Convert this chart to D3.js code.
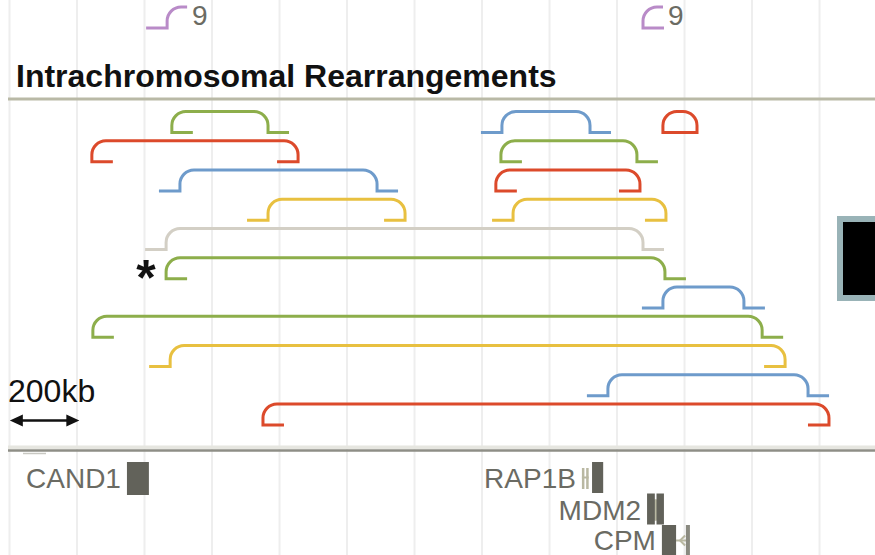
<!DOCTYPE html>
<html><head><meta charset="utf-8">
<script src="https://cdn.jsdelivr.net/npm/d3@7"></script>
<style>html,body{margin:0;padding:0;background:#fff;} svg{display:block;}</style>
</head><body><svg id="chart" width="875" height="555"></svg>
<script>
// Breakpoint positions are in kb from the left edge of the window.
const linkStart     = [481, 1459, 1936, 244, 1456, 505, 1441, 766, 1492, 464, 464, 1936, 247, 476, 1773, 751];
const linkEnd       = [766, 1720, 2037, 855, 1859, 1089, 1868, 1172, 1945, 1877, 1942, 2176, 2230, 2298, 2366, 2428];
const linkStartSide = ["in","out","in","in","in","out","in","out","out","out","in","out","in","out","out","in"];
const linkEndSide   = ["out","out","in","in","out","out","in","in","in","out","out","out","out","in","out","in"];
const linkRow       = [0, 0, 0, 1, 1, 2, 2, 3, 3, 4, 5, 6, 7, 8, 9, 10];
const linkColor     = ["green","blue","red","red","green","blue","red","yellow","yellow","gray","green","blue","green","yellow","blue","red"];
const linkMark      = ["","","","","","","","","","","*","","","","",""];

// Translocation ends to another chromosome
const transPos   = [467, 1877];
const transSide  = ["out", "in"];
const transLabel = ["9", "9"];

// Genes: label, track row, coding blocks and thin (UTR) spans in kb
const geneName   = ["CAND1", "RAP1B", "MDM2", "CPM"];
const geneRow    = [0, 0, 1, 2];
const geneBlocks = [[[348, 413]], [[1726, 1759]], [[1889, 1912], [1917, 1939]], [[1933, 1975]]];
const geneThin   = [[], [[1696, 1716]], [[1912, 1917]], [[1975, 2016]]];
const geneStrand = ["+", "+", "+", "-"];

const gridKb = d3.range(0, 2600, 200);
const scaleBarKb = 200;
const title = "Intrachromosomal Rearrangements";

const palette = {green: "#8dae4b", blue: "#6e9bcb", red: "#dc4a2b", yellow: "#e8c040", gray: "#d3cfc5", purple: "#b98bc8"};

const W = 875, H = 555;
const svg = d3.select("#chart");
const x = d3.scaleLinear().domain([0, 2570]).range([9.5, 876.9]);
const rowY = d3.scaleLinear().domain([0, 10]).range([111.5, 404]);
const geneY = d3.scaleLinear().domain([0, 2]).range([462, 525]);
const ARC_H = 21, R = 14, STUB = 21;
const FONT = "'Liberation Sans', Arial, Helvetica, sans-serif";

// grid
svg.append("g").selectAll("line").data(gridKb).join("line")
  .attr("x1", d => x(d)).attr("x2", d => x(d))
  .attr("y1", 0).attr("y2", H)
  .attr("stroke", "#eeeeee").attr("stroke-width", 2);

// track separators
svg.append("line").attr("x1", 8).attr("x2", W).attr("y1", 99).attr("y2", 99)
  .attr("stroke", "#b9b9a6").attr("stroke-width", 3);
svg.append("rect").attr("x", 8).attr("y", 445.5).attr("width", W - 8).attr("height", 3.5).attr("fill", "#e6e6e0");
svg.append("line").attr("x1", 8).attr("x2", W).attr("y1", 450.5).attr("y2", 450.5)
  .attr("stroke", "#8e8e86").attr("stroke-width", 2.5);
svg.append("line").attr("x1", 23).attr("x2", 46).attr("y1", 453.5).attr("y2", 453.5)
  .attr("stroke", "#c8c8c2").attr("stroke-width", 1.5);

// title
svg.append("text").attr("x", 16).attr("y", 87).text(title)
  .attr("font-family", FONT).attr("font-weight", "bold").attr("font-size", 32).attr("fill", "#111");

// bracket path for one rearrangement
function bracket(a, b, sa, sb, yt) {
  const xa = x(a), xb = x(b), yb = yt + ARC_H;
  const r = Math.min(R, (xb - xa) / 2);
  const stub = Math.min(STUB, (xb - xa) / 2);
  const ea = sa === "out" ? xa - STUB : xa + stub;
  const eb = sb === "out" ? xb + STUB : xb - stub;
  return `M${ea},${yb}H${xa}V${yt + r}A${r},${r} 0 0 1 ${xa + r},${yt}` +
         `H${xb - r}A${r},${r} 0 0 1 ${xb},${yt + r}V${yb}H${eb}`;
}

const links = linkStart.map((s, i) => ({s, e: linkEnd[i], ss: linkStartSide[i], es: linkEndSide[i],
  row: linkRow[i], color: linkColor[i], mark: linkMark[i]}));

svg.append("g").selectAll("path").data(links).join("path")
  .attr("d", d => bracket(d.s, d.e, d.ss, d.es, rowY(d.row)))
  .attr("fill", "none").attr("stroke", d => palette[d.color]).attr("stroke-width", 3);

svg.append("g").selectAll("text").data(links.filter(d => d.mark)).join("text")
  .attr("x", d => x(d.s) - 20).attr("y", d => rowY(d.row) + 37)
  .attr("text-anchor", "middle").text(d => d.mark)
  .attr("font-family", FONT).attr("font-weight", "bold").attr("font-size", 50).attr("fill", "#111");

// translocation half-brackets
const trans = transPos.map((p, i) => ({p, side: transSide[i], label: transLabel[i]}));
const tTop = 7;
svg.append("g").selectAll("path").data(trans).join("path")
  .attr("d", d => {
    const xp = x(d.p), yb = tTop + ARC_H;
    const e = d.side === "out" ? xp - STUB : xp + STUB;
    return `M${e},${yb}H${xp}V${tTop + R}A${R},${R} 0 0 1 ${xp + R},${tTop}H${xp + 20}`;
  })
  .attr("fill", "none").attr("stroke", palette.purple).attr("stroke-width", 3);
svg.append("g").selectAll("text").data(trans).join("text")
  .attr("x", d => x(d.p) + 25).attr("y", 25).text(d => d.label)
  .attr("font-family", FONT).attr("font-size", 28).attr("fill", "#6b6b63");

// scale bar
svg.append("text").attr("x", 8).attr("y", 402).text(scaleBarKb + "kb")
  .attr("font-family", FONT).attr("font-size", 32).attr("fill", "#111");
const sb0 = x(1), sb1 = x(1) + (x(scaleBarKb) - x(0)) + 2, sy = 420.5;
svg.append("line").attr("x1", sb0 + 8).attr("x2", sb1 - 8).attr("y1", sy).attr("y2", sy)
  .attr("stroke", "#111").attr("stroke-width", 2.5);
svg.append("path").attr("d", `M${sb0},${sy}L${sb0 + 13},${sy - 6}L${sb0 + 13},${sy + 6}Z M${sb1},${sy}L${sb1 - 13},${sy - 6}L${sb1 - 13},${sy + 6}Z`)
  .attr("fill", "#111");

// chromosome-end marker
svg.append("rect").attr("x", 837).attr("y", 216).attr("width", 45).attr("height", 85).attr("fill", "#99b3b7");
svg.append("rect").attr("x", 843).attr("y", 222).attr("width", 40).attr("height", 73).attr("fill", "#000");

// genes
const GH = 31;
const genes = geneName.map((n, i) => ({n, row: geneRow[i], blocks: geneBlocks[i], thin: geneThin[i], strand: geneStrand[i]}));
const gg = svg.append("g").selectAll("g").data(genes).join("g");
gg.append("text")
  .attr("x", d => x(d3.min([...d.blocks, ...d.thin], b => b[0])) - 6)
  .attr("y", d => Math.min(geneY(d.row) + 26, 550))
  .attr("text-anchor", "end").text(d => d.n)
  .attr("font-family", FONT).attr("font-size", 28).attr("fill", "#6b6b63");
gg.each(function(d) {
  const g = d3.select(this), y0 = geneY(d.row);
  d.thin.forEach(([a, b]) => {
    const xa = x(a), xb = x(b), ym = y0 + GH / 2;
    g.append("line").attr("x1", xa).attr("x2", xb).attr("y1", ym).attr("y2", ym)
      .attr("stroke", "#b9b8a2").attr("stroke-width", 2);
    if (d.strand === "-") {
      g.append("path").attr("d", `M${xa + 9},${ym - 5}L${xa + 4},${ym}L${xa + 9},${ym + 5}`)
        .attr("fill", "none").attr("stroke", "#b9b8a2").attr("stroke-width", 2);
      g.append("rect").attr("x", xb - 4).attr("y", y0).attr("width", 4).attr("height", GH)
        .attr("fill", "#8a8a80");
    } else {
      g.append("rect").attr("x", xa).attr("y", y0 + 6).attr("width", 2.5).attr("height", GH - 10).attr("fill", "#b9b8a2");
      g.append("rect").attr("x", xb - 2.5).attr("y", y0 + 6).attr("width", 2.5).attr("height", GH - 10).attr("fill", "#b9b8a2");
    }
  });
  d.blocks.forEach(([a, b]) => {
    g.append("rect").attr("x", x(a)).attr("y", y0).attr("width", x(b) - x(a)).attr("height", GH + (d.n === "CAND1" ? 2 : 0))
      .attr("fill", "#62625a");
  });
});
</script>
</body></html>
